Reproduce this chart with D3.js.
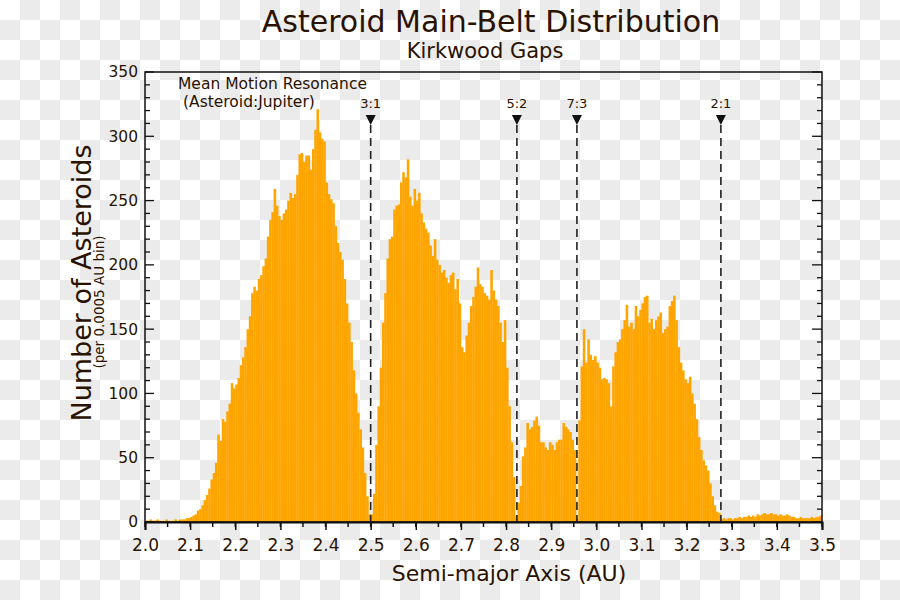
<!DOCTYPE html>
<html>
<head>
<meta charset="utf-8">
<script src="https://cdn.jsdelivr.net/npm/d3@7/dist/d3.min.js"></script>
<style>
  html, body { margin: 0; padding: 0; background: #fff; }
  svg { display: block; }
  text { font-family: "DejaVu Sans", sans-serif; fill: #2a1200; }
</style>
</head>
<body>
<svg id="chart" width="900" height="600"></svg>
<script>
// ---------- data ----------
const binStart = 2.0;          // AU
const binWidth = 0.005;        // AU (display bins)
const counts = [
  1,1,2,1,1,2,1,1,1,2, 1,1,1,2,1,2,2,2,3,3,
  4,5,6,9,10,13,17,21,26,33, 38,46,68,63,80,78,86,92,108,104,
  107,112,122,128,136,150,160,178,183,180, 189,192,199,205,222,235,241,259,246,238,
  235,240,243,250,256,252,255,270,286,287, 280,285,285,274,290,305,321,303,298,296,
  264,255,251,248,230,217,210,204,189,170, 155,140,118,100,85,72,58,38,20,6,
  6,22,60,90,120,155,178,205,220,222, 243,246,247,264,272,268,282,253,246,259,
  250,256,240,233,228,225,215,207,220,204, 200,194,196,190,186,192,194,181,189,170,
  136,132,145,155,168,175,183,198,185,183, 178,176,173,196,180,173,168,155,140,157,
  120,90,62,35,5,15,28,51,58,77, 72,74,79,82,75,62,62,58,56,62,
  60,56,62,64,64,77,74,72,70,64, 56,3,79,121,150,124,142,130,126,129,
  124,120,111,112,111,108,90,121,132,140, 142,150,157,169,152,155,150,168,160,165,
  170,175,176,155,158,150,157,160,163,147, 150,152,168,172,176,157,136,124,118,111,
  108,113,100,92,80,66,56,48,44,40, 30,20,13,8,7,2,3,2,3,3,
  2,3,3,4,3,4,4,5,4,5, 4,6,5,6,7,6,6,7,6,6,
  5,6,5,5,6,5,4,4,3,3, 4,3,3,3,3,4,3,4,4,5
];
const resonanceLabels = ["3:1", "5:2", "7:3", "2:1"];
const resonanceAU = [2.500, 2.824, 2.957, 3.276];
const xTickValues = [2.0, 2.1, 2.2, 2.3, 2.4, 2.5, 2.6, 2.7, 2.8, 2.9, 3.0, 3.1, 3.2, 3.3, 3.4, 3.5];
const yTickValues = [0, 50, 100, 150, 200, 250, 300, 350];

// ---------- layout ----------
const svg = d3.select("#chart");
const W = 900, H = 600;
const pL = 145, pR = 822, pT = 72, pB = 522;
const ink = "#2a1200";

// checkerboard (transparent-background look)
const defs = svg.append("defs");
const pat = defs.append("pattern").attr("id", "checker")
  .attr("width", 40).attr("height", 40).attr("patternUnits", "userSpaceOnUse");
pat.append("rect").attr("width", 40).attr("height", 40).attr("fill", "#ffffff");
pat.append("rect").attr("x", 20).attr("y", 0).attr("width", 20).attr("height", 20).attr("fill", "#ebebeb");
pat.append("rect").attr("x", 0).attr("y", 20).attr("width", 20).attr("height", 20).attr("fill", "#ebebeb");
svg.append("rect").attr("width", W).attr("height", H).attr("fill", "url(#checker)");

const x = d3.scaleLinear().domain([2.0, 3.5]).range([pL, pR]);
const y = d3.scaleLinear().domain([0, 350]).range([pB, pT]);

// bars
svg.append("g").selectAll("rect").data(counts).join("rect")
  .attr("x", (d, i) => x(binStart + i * binWidth))
  .attr("width", (d, i) => x(binStart + (i + 1) * binWidth) - x(binStart + i * binWidth) + 0.3)
  .attr("y", d => y(d))
  .attr("height", d => y(0) - y(d))
  .attr("fill", "#ffa500");

// resonance lines
resonanceAU.forEach((a, k) => {
  const px = x(a);
  svg.append("line").attr("x1", px).attr("x2", px).attr("y1", 125).attr("y2", pB)
    .attr("stroke", "#222").attr("stroke-width", 1.6).attr("stroke-dasharray", "8,5");
  svg.append("path").attr("d", `M${px - 5},115 L${px + 5},115 L${px},125 Z`).attr("fill", "#111");
  svg.append("text").attr("x", px).attr("y", 108).attr("text-anchor", "middle")
    .attr("font-size", 13).text(resonanceLabels[k]);
});

// frame
svg.append("rect").attr("x", pL).attr("y", pT).attr("width", pR - pL).attr("height", pB - pT)
  .attr("fill", "none").attr("stroke", "#111").attr("stroke-width", 1.5);

// bottom axis
const xMinor = d3.range(0, 31).map(i => 2.0 + i * 0.05);
const gx = svg.append("g").attr("transform", `translate(0,${pB})`)
  .call(d3.axisBottom(x).tickValues(xTickValues).tickFormat(d3.format(".1f")).tickSize(8).tickPadding(9));
gx.select(".domain").attr("stroke", "#111").attr("stroke-width", 2);
gx.selectAll(".tick line").attr("stroke", "#111").attr("stroke-width", 1.5);
gx.selectAll(".tick text").attr("font-size", 17).attr("fill", ink).style("font-family", "DejaVu Sans");
svg.append("g").selectAll("line").data(xMinor).join("line")
  .attr("x1", d => x(d)).attr("x2", d => x(d)).attr("y1", pB).attr("y2", pB + 5)
  .attr("stroke", "#111").attr("stroke-width", 1.5);

// left axis
const yMinor = d3.range(0, 36).map(i => i * 10);
const gy = svg.append("g").attr("transform", `translate(${pL},0)`)
  .call(d3.axisLeft(y).tickValues(yTickValues).tickSize(0).tickPadding(7));
gy.select(".domain").remove();
gy.selectAll(".tick text").attr("font-size", 15.5).attr("fill", ink).style("font-family", "DejaVu Sans");
svg.append("g").selectAll("line").data(yMinor).join("line")
  .attr("x1", pL).attr("x2", d => pL + (d % 50 === 0 ? 9 : 5))
  .attr("y1", d => y(d)).attr("y2", d => y(d))
  .attr("stroke", "#111").attr("stroke-width", 1.3);
// right axis ticks
svg.append("g").selectAll("line").data(yMinor).join("line")
  .attr("x1", pR).attr("x2", d => pR - (d % 50 === 0 ? 10 : 5))
  .attr("y1", d => y(d)).attr("y2", d => y(d))
  .attr("stroke", "#111").attr("stroke-width", 1.3);

// titles
svg.append("text").attr("x", 491).attr("y", 32).attr("text-anchor", "middle")
  .attr("font-size", 30).text("Asteroid Main-Belt Distribution");
svg.append("text").attr("x", 485).attr("y", 58).attr("text-anchor", "middle")
  .attr("font-size", 21).text("Kirkwood Gaps");

// axis labels
svg.append("text").attr("x", 509).attr("y", 581).attr("text-anchor", "middle")
  .attr("font-size", 22).text("Semi-major Axis (AU)");
svg.append("text").attr("transform", "translate(91,283) rotate(-90)").attr("text-anchor", "middle")
  .attr("font-size", 27).text("Number of Asteroids");
svg.append("text").attr("transform", "translate(104,302) rotate(-90)").attr("text-anchor", "middle")
  .attr("font-size", 13.5).text("(per 0.0005 AU bin)");

// annotation
svg.append("text").attr("x", 178).attr("y", 89).attr("font-size", 15.5).text("Mean Motion Resonance");
svg.append("text").attr("x", 183).attr("y", 107).attr("font-size", 15.5).text("(Asteroid:Jupiter)");
</script>
</body>
</html>
